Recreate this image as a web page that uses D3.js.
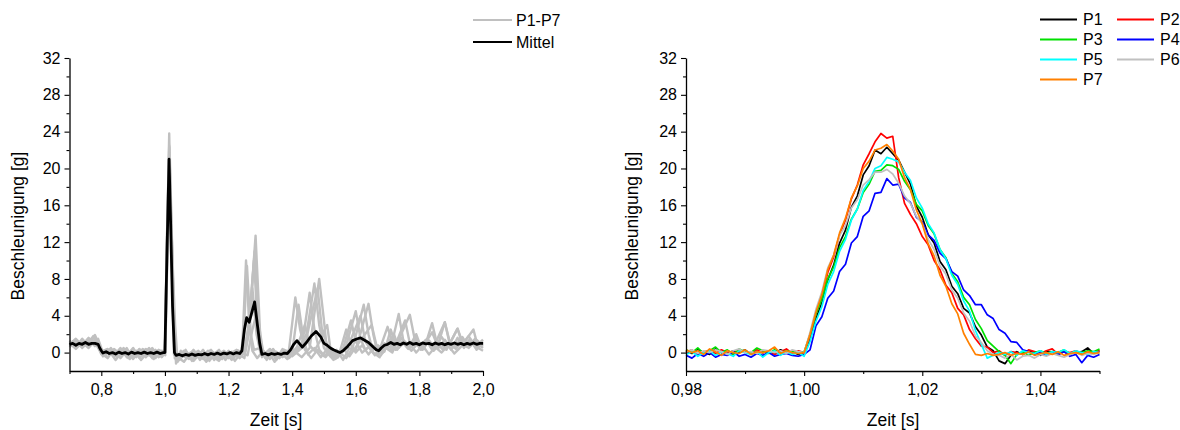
<!DOCTYPE html>
<html><head><meta charset="utf-8">
<script src="https://cdn.jsdelivr.net/npm/d3@7"></script>
<style>
body{margin:0;background:#fff;}
svg text{font-family:"Liberation Sans",Arial,sans-serif;font-size:16px;fill:#000;}
</style></head>
<body><svg id="c" width="1180" height="430"></svg>
<script>
// ---------- Data ----------
const yMajorTicks = [0,4,8,12,16,20,24,28,32];
const yMinorTicks = [2,6,10,14,18,22,26,30];
const leftXMajor = [0.8,1.0,1.2,1.4,1.6,1.8,2.0];
const leftXMinor = [0.7,0.9,1.1,1.3,1.5,1.7,1.9];
const leftXLabels = ["0,8","1,0","1,2","1,4","1,6","1,8","2,0"];
const rightXMajor = [0.98,1.00,1.02,1.04];
const rightXMinor = [0.99,1.01,1.03,1.05];
const rightXLabels = ["0,98","1,00","1,02","1,04"];
const seriesNames = ["P1","P2","P3","P4","P5","P6","P7"];
const seriesColors = ["#000000","#ff0000","#00e000","#0000ff","#00ffff","#c0c0c0","#ff8000"];

// Left: P1-P7 (grey) as [t, g]
const gP1 = [[0.70,0.9],[0.72,1.4],[0.74,0.5],[0.76,1.2],[0.775,1.7],[0.79,0.8],[0.80,0.0],[0.82,-0.5],[0.84,0.3],[0.86,-0.6],[0.88,0.2],[0.90,-0.4],[0.92,0.4],[0.94,-0.5],[0.96,0.2],[0.98,-0.3],[1.00,0.1],[1.007,13],[1.014,22.3],[1.022,10],[1.032,0.0],[1.04,-1.0],[1.06,0.2],[1.08,-0.6],[1.10,0.1],[1.12,-0.7],[1.14,0.2],[1.16,-0.5],[1.18,0.1],[1.20,-0.6],[1.22,0.2],[1.24,-0.3],[1.245,2],[1.255,10.0],[1.265,3],[1.275,0.2],[1.29,-0.6],[1.31,0.2],[1.33,-0.7],[1.35,0.1],[1.37,-0.5],[1.39,0.3],[1.41,6.0],[1.425,2.5],[1.44,0.3],[1.46,-0.6],[1.48,0.3],[1.50,-0.4],[1.52,0.2],[1.54,-0.6],[1.56,0.4],[1.585,3.5],[1.60,1.2],[1.62,0.0],[1.64,0.6],[1.66,-0.3],[1.68,0.8],[1.70,2.8],[1.715,1.0],[1.73,0.3],[1.75,1.3],[1.77,0.4],[1.79,1.5],[1.81,0.6],[1.84,2.2],[1.86,0.5],[1.88,1.4],[1.90,0.3],[1.92,1.6],[1.94,0.5],[1.96,1.4],[1.98,0.4],[2.00,1.2]];
const gP2 = [[0.70,1.3],[0.72,0.6],[0.74,1.5],[0.76,0.7],[0.78,1.9],[0.79,1.1],[0.80,0.3],[0.81,-0.3],[0.83,0.5],[0.85,-0.4],[0.87,0.4],[0.89,-0.7],[0.91,0.2],[0.93,-0.3],[0.95,0.5],[0.97,-0.6],[0.99,0.2],[1.00,-0.1],[1.007,13],[1.0135,23.8],[1.016,19],[1.024,7],[1.031,0.3],[1.045,-0.8],[1.065,0.3],[1.085,-0.9],[1.105,0.2],[1.125,-0.5],[1.145,0.3],[1.165,-0.8],[1.185,0.2],[1.205,-0.4],[1.225,0.3],[1.245,0.0],[1.258,9.4],[1.27,2.0],[1.28,0.3],[1.30,0.5],[1.32,-0.8],[1.34,0.3],[1.36,-0.4],[1.38,0.2],[1.40,0.0],[1.42,5.2],[1.435,1.5],[1.45,-0.2],[1.47,0.5],[1.49,-0.5],[1.51,0.4],[1.53,-0.7],[1.55,0.2],[1.57,0.8],[1.60,4.5],[1.615,1.5],[1.63,0.3],[1.65,0.9],[1.67,0.0],[1.69,1.0],[1.71,0.5],[1.735,4.2],[1.75,1.2],[1.77,0.6],[1.79,1.6],[1.81,0.3],[1.83,1.3],[1.85,0.5],[1.87,1.7],[1.89,0.6],[1.92,2.6],[1.94,0.7],[1.96,1.5],[1.98,0.3],[2.00,1.1]];
const gP3 = [[0.70,0.6],[0.72,1.2],[0.74,0.8],[0.76,1.5],[0.78,0.7],[0.79,1.2],[0.80,0.1],[0.82,0.4],[0.84,-0.5],[0.86,0.3],[0.88,-0.3],[0.90,0.5],[0.92,-0.6],[0.94,0.1],[0.96,-0.4],[0.98,0.3],[1.00,0.0],[1.007,11],[1.015,20.5],[1.022,12],[1.028,4],[1.033,0.0],[1.035,-1.2],[1.05,0.2],[1.07,-0.5],[1.09,0.3],[1.11,-0.8],[1.13,0.0],[1.15,-0.3],[1.17,0.3],[1.19,-0.8],[1.21,0.1],[1.23,-0.4],[1.25,0.3],[1.265,3],[1.285,12.7],[1.30,1.5],[1.31,-0.3],[1.33,0.4],[1.35,-0.8],[1.37,0.2],[1.39,-0.3],[1.42,0.5],[1.445,2.0],[1.47,7.5],[1.485,3.0],[1.50,0.5],[1.52,-0.4],[1.54,0.3],[1.56,-0.8],[1.58,0.5],[1.60,0.2],[1.64,5.3],[1.655,2.0],[1.67,-0.3],[1.69,0.7],[1.71,0.2],[1.73,1.0],[1.77,4.1],[1.785,1.5],[1.80,0.5],[1.82,1.4],[1.84,0.3],[1.86,1.0],[1.88,3.3],[1.895,1.0],[1.91,0.5],[1.93,1.5],[1.95,0.6],[1.97,1.3],[2.00,0.7]];
const gP4 = [[0.70,1.0],[0.72,0.4],[0.74,1.1],[0.76,0.5],[0.78,1.3],[0.795,0.6],[0.805,-0.4],[0.825,0.2],[0.845,-0.8],[0.865,0.1],[0.885,-0.6],[0.905,0.2],[0.925,-0.8],[0.945,0.0],[0.965,-0.7],[0.985,0.1],[1.001,-0.3],[1.008,11],[1.015,18.7],[1.025,9],[1.032,3],[1.038,0.0],[1.05,-0.6],[1.07,0.0],[1.09,-0.9],[1.11,-0.1],[1.13,-1.0],[1.15,-0.2],[1.17,-0.9],[1.19,0.0],[1.21,-0.8],[1.23,-0.1],[1.25,-0.6],[1.265,2.5],[1.282,11.0],[1.295,3.0],[1.305,-0.5],[1.325,0.1],[1.345,-1.0],[1.365,0.0],[1.385,-0.7],[1.405,0.2],[1.43,-0.5],[1.455,0.5],[1.485,8.0],[1.50,3.5],[1.51,0.0],[1.53,-0.8],[1.55,0.0],[1.57,-0.6],[1.59,0.5],[1.625,5.2],[1.64,2.0],[1.655,0.0],[1.675,-0.5],[1.695,0.5],[1.715,0.0],[1.755,3.5],[1.77,1.0],[1.79,0.0],[1.81,0.8],[1.83,-0.2],[1.85,0.6],[1.87,0.0],[1.89,0.8],[1.91,-0.1],[1.93,0.6],[1.97,2.5],[1.985,0.5],[2.00,0.2]];
const gP5 = [[0.70,0.8],[0.72,1.1],[0.74,0.6],[0.76,1.4],[0.78,0.9],[0.79,1.5],[0.80,0.5],[0.81,-0.2],[0.83,0.2],[0.85,-0.5],[0.87,0.5],[0.89,-0.2],[0.91,-0.5],[0.93,0.4],[0.95,-0.3],[0.97,0.3],[0.99,-0.5],[1.001,0.0],[1.008,12],[1.0155,21.2],[1.023,11],[1.030,0.8],[1.031,-0.6],[1.05,-0.2],[1.07,-0.6],[1.09,0.2],[1.11,-0.4],[1.13,-0.8],[1.15,0.1],[1.17,-0.5],[1.19,-0.1],[1.21,-0.7],[1.23,0.2],[1.25,-0.2],[1.26,1.5],[1.275,7.0],[1.288,2.0],[1.30,0.0],[1.32,-0.5],[1.34,0.4],[1.36,-0.6],[1.38,0.1],[1.40,-0.4],[1.43,0.5],[1.455,6.5],[1.47,2.5],[1.485,0.3],[1.505,-0.5],[1.525,0.4],[1.545,-0.5],[1.57,2.5],[1.585,0.8],[1.60,0.0],[1.62,0.8],[1.64,-0.2],[1.66,0.7],[1.68,0.0],[1.72,2.0],[1.735,0.5],[1.755,1.2],[1.775,0.2],[1.795,1.0],[1.815,0.4],[1.84,3.2],[1.855,1.0],[1.875,0.3],[1.895,1.2],[1.915,0.4],[1.935,1.3],[1.955,0.5],[1.975,1.2],[2.00,0.5]];
const gP6 = [[0.70,1.2],[0.72,0.7],[0.74,1.3],[0.76,1.0],[0.775,1.8],[0.79,0.7],[0.80,-0.2],[0.82,0.3],[0.84,-0.3],[0.86,0.5],[0.88,-0.5],[0.90,0.1],[0.92,-0.2],[0.94,0.4],[0.96,-0.6],[0.98,0.1],[1.00,0.2],[1.006,11],[1.014,19.8],[1.024,8],[1.031,0.0],[1.035,-0.8],[1.055,0.1],[1.075,-0.7],[1.095,0.0],[1.115,-0.6],[1.135,0.2],[1.155,-0.8],[1.175,-0.1],[1.195,-0.5],[1.215,0.1],[1.235,-0.6],[1.25,0.0],[1.265,3.5],[1.28,10.0],[1.29,4.0],[1.30,0.5],[1.315,-0.6],[1.335,0.2],[1.355,-0.5],[1.375,0.3],[1.395,-0.2],[1.415,0.6],[1.44,3.0],[1.455,0.8],[1.47,0.2],[1.50,2.0],[1.515,0.2],[1.535,-0.7],[1.555,0.0],[1.575,0.6],[1.615,4.0],[1.63,1.2],[1.65,0.2],[1.67,0.8],[1.69,0.1],[1.71,2.5],[1.725,0.8],[1.745,1.6],[1.765,0.5],[1.785,1.4],[1.805,0.3],[1.825,1.5],[1.845,0.6],[1.88,3.3],[1.895,1.2],[1.915,0.6],[1.935,1.7],[1.955,0.6],[1.975,1.5],[2.00,0.8]];
const gP7 = [[0.70,0.9],[0.72,1.5],[0.74,0.8],[0.76,1.6],[0.78,1.1],[0.79,0.5],[0.80,-0.1],[0.82,-0.6],[0.84,0.4],[0.86,-0.2],[0.88,0.5],[0.90,-0.7],[0.92,0.3],[0.94,-0.2],[0.96,0.5],[0.98,-0.5],[1.00,0.0],[1.006,12],[1.0135,22.5],[1.022,9],[1.0285,-0.2],[1.04,-0.5],[1.06,-1.0],[1.08,0.0],[1.10,-0.5],[1.12,0.3],[1.14,-0.9],[1.16,0.0],[1.18,-0.7],[1.20,0.2],[1.22,-0.9],[1.24,0.0],[1.26,-0.3],[1.275,2.5],[1.29,4.5],[1.30,2.0],[1.31,-0.2],[1.33,0.3],[1.35,-0.7],[1.37,0.4],[1.39,-0.6],[1.41,0.1],[1.44,0.8],[1.48,7.0],[1.495,2.0],[1.51,3.0],[1.52,0.5],[1.54,-0.3],[1.56,0.5],[1.58,-0.4],[1.60,0.6],[1.65,3.0],[1.665,0.8],[1.685,0.0],[1.705,1.0],[1.725,0.3],[1.745,1.2],[1.765,0.4],[1.79,2.0],[1.805,0.6],[1.825,1.2],[1.845,0.2],[1.865,1.0],[1.885,0.3],[1.92,2.6],[1.935,0.9],[1.955,1.8],[1.975,0.6],[2.00,1.4]];
const meanLine = [[0.70,0.9],[0.71,1.0],[0.72,0.8],[0.73,1.0],[0.74,0.9],[0.75,1.1],[0.76,0.9],[0.77,1.0],[0.78,1.0],[0.79,0.9],[0.795,0.5],[0.80,0.2],[0.805,-0.05],[0.815,0.1],[0.825,-0.1],[0.835,0.0],[0.845,-0.15],[0.855,0.05],[0.865,-0.1],[0.875,0.0],[0.885,-0.15],[0.895,0.05],[0.905,-0.1],[0.915,0.0],[0.925,-0.1],[0.935,0.05],[0.945,-0.1],[0.955,0.0],[0.965,-0.1],[0.975,0.05],[0.985,-0.1],[0.995,0.0],[1.000,0.0],[1.006,10],[1.013,21.0],[1.018,14],[1.024,5],[1.030,0.0],[1.035,-0.3],[1.045,-0.2],[1.055,-0.35],[1.065,-0.2],[1.075,-0.3],[1.085,-0.15],[1.095,-0.3],[1.105,-0.2],[1.115,-0.25],[1.125,-0.1],[1.135,-0.25],[1.145,-0.1],[1.155,-0.2],[1.165,-0.05],[1.175,-0.2],[1.185,-0.05],[1.195,-0.15],[1.205,0.0],[1.215,-0.15],[1.225,0.0],[1.235,-0.1],[1.242,0.2],[1.25,2.5],[1.257,3.8],[1.265,3.3],[1.272,4.2],[1.282,5.5],[1.29,3.2],[1.298,1.0],[1.305,-0.2],[1.315,-0.1],[1.325,-0.25],[1.335,-0.1],[1.345,-0.2],[1.355,-0.1],[1.365,-0.2],[1.375,-0.05],[1.385,-0.1],[1.395,0.3],[1.405,0.9],[1.415,1.3],[1.425,0.9],[1.432,0.6],[1.445,1.1],[1.46,1.8],[1.475,2.3],[1.49,1.7],[1.50,1.0],[1.51,0.8],[1.52,0.5],[1.53,0.3],[1.54,0.15],[1.55,0.0],[1.56,0.2],[1.575,0.7],[1.59,1.3],[1.605,1.5],[1.615,1.6],[1.625,1.4],[1.64,1.1],[1.655,0.6],[1.665,0.3],[1.672,0.2],[1.68,0.5],[1.69,0.8],[1.70,0.9],[1.71,1.1],[1.72,0.9],[1.73,1.0],[1.74,0.85],[1.75,1.05],[1.76,0.9],[1.77,1.1],[1.78,0.9],[1.79,1.0],[1.80,0.85],[1.81,1.05],[1.82,0.95],[1.83,1.0],[1.84,0.85],[1.85,1.05],[1.86,0.9],[1.87,1.0],[1.88,0.85],[1.89,1.0],[1.90,0.9],[1.91,1.05],[1.92,0.9],[1.93,1.0],[1.94,0.85],[1.95,1.0],[1.96,0.9],[1.97,1.05],[1.98,0.9],[1.99,1.0],[2.00,1.0]];

// Right: sample times (s) and P1..P7 values (g)
const rightTimes = [0.980,0.981,0.982,0.983,0.984,0.985,0.986,0.987,0.988,0.989,0.990,0.991,0.992,0.993,0.994,0.995,0.996,0.997,0.998,0.999,1.000,1.001,1.002,1.003,1.004,1.005,1.006,1.007,1.008,1.009,1.010,1.011,1.012,1.013,1.014,1.015,1.016,1.017,1.018,1.019,1.020,1.021,1.022,1.023,1.024,1.025,1.026,1.027,1.028,1.029,1.030,1.031,1.032,1.033,1.034,1.035,1.036,1.037,1.038,1.039,1.040,1.041,1.042,1.043,1.044,1.045,1.046,1.047,1.048,1.049,1.050];
const rP1 = [0.2,-0.1,0.3,0.0,-0.2,0.4,0.1,-0.1,0.2,0.0,0.3,-0.2,0.1,0.0,0.2,-0.1,0.3,0.0,0.1,-0.2,0.0, 1.5,3.7,5.4,7.9,9.5,11.9,13.3,15.8,17.0,19.3,20.3,22.0,21.6,22.3,21.6,20.9,19.6,18.3,15.9,14.7,12.8,11.9,9.9,9.0,7.2,6.4,4.8,4.3,2.8,1.9,0.6,0.2, -0.9,-1.2,-0.3,0.1,-0.2,0.2,0.0,-0.3,0.1,0.0,-0.2,0.2,-0.1,0.0,0.1,0.5,-0.1,0.2];
const rP2 = [0.0,0.3,-0.2,0.1,0.2,-0.1,0.3,0.0,-0.2,0.2,0.1,-0.1,0.3,0.0,0.2,-0.2,0.1,0.4,-0.1,0.2,0.0, 1.8,4.2,6.0,8.7,10.4,12.8,14.4,16.7,18.2,20.4,21.6,22.9,23.8,23.3,23.5,19.0,16.2,15.0,14.0,12.6,11.7,10.0,9.0,7.3,6.5,4.8,4.1,2.5,1.5,0.7,0.6,0.0, 0.2,-0.3,0.1,0.0,-0.2,0.3,0.1,-0.1,0.2,0.4,-0.2,0.1,0.0,0.2,-0.1,0.1,0.0,0.2];
const rP3 = [0.3,0.0,0.5,-0.1,0.2,0.6,0.0,0.3,-0.2,0.4,0.1,0.0,0.5,0.2,-0.1,0.3,0.0,0.2,0.1,-0.1,0.1, 2.0,4.2,5.8,8.0,9.3,11.4,12.6,14.5,15.6,17.4,18.3,19.7,19.8,20.4,20.3,19.9,18.6,17.7,16.1,15.4,13.8,12.9,11.2,10.3,8.6,7.7,6.0,5.2,3.6,2.6,1.3,0.7, 0.1,-0.3,-1.2,-0.2,0.1,-0.3,0.0,0.2,-0.1,0.1,0.0,0.3,-0.2,0.1,0.0,0.2,0.1,0.4];
const rP4 = [-0.3,-0.6,-0.1,-0.4,0.0,-0.5,-0.2,-0.3,0.1,-0.4,-0.2,-0.5,-0.1,-0.3,0.0,-0.4,-0.2,-0.1,-0.3,-0.4,-0.2, 0.3,2.9,3.9,5.9,6.7,8.8,9.6,11.9,12.6,14.8,15.4,17.3,17.4,18.9,18.2,18.3,16.8,16.3,14.7,14.2,12.8,12.2,10.8,10.2,8.8,8.3,6.8,6.2,5.2,5.2,4.1,3.7,2.5,2.1,1.2,1.1,0.3,0.1, -0.2,0.1,-0.3,0.0,-0.2,0.1,-0.4,-0.2,-1.1,-0.3,-0.5,-0.2];
const rP5 = [-0.2,0.1,-0.4,0.0,0.2,-0.3,0.1,-0.1,-0.4,0.2,0.0,-0.2,0.1,-0.5,0.0,0.2,-0.3,0.1,-0.2,0.0,-0.4, 1.2,3.4,5.0,7.4,8.8,11.0,12.3,14.4,15.6,17.6,18.6,20.0,20.3,21.2,21.0,20.7,19.6,18.7,16.8,15.7,14.0,13.0,11.2,10.2,8.4,7.4,5.6,4.5,2.4,0.9,-0.6,-0.3, 0.0,-0.2,0.1,-0.3,0.2,0.0,-0.1,0.2,-0.2,0.1,0.0,0.3,-0.1,0.2,0.0,-0.2,0.1,0.0];
const rP6 = [0.1,0.3,-0.1,0.2,0.0,0.3,0.1,-0.2,0.2,0.4,0.0,0.1,-0.1,0.3,0.2,0.0,0.2,-0.1,0.3,0.1,0.0, 2.2,4.7,6.6,9.2,10.6,12.7,13.8,15.7,16.6,18.2,18.8,19.6,19.6,19.9,19.4,18.4,17.0,16.2,14.8,14.0,12.3,11.2,9.4,8.5,6.8,5.9,4.3,3.4,1.8,1.1,0.2,-0.2, -0.3,-0.6,-0.2,-0.8,-0.4,-0.3,-0.6,-0.2,-0.4,-0.1,-0.3,-0.5,-0.2,0.0,-0.3,-0.1,-0.2,0.0];
const rP7 = [0.3,0.0,0.2,-0.2,0.4,0.1,-0.3,0.2,0.0,-0.1,0.3,-0.2,0.1,0.0,0.2,0.6,-0.1,0.2,0.0,-0.1,0.0, 2.0,4.4,6.3,9.0,10.6,13.0,14.6,16.8,18.1,20.0,20.8,22.0,22.2,22.6,21.9,21.0,19.0,17.7,15.5,14.0,11.8,10.5,8.4,7.2,5.3,4.2,2.1,0.9,-0.2,-0.3,-0.1,-0.3, -0.2,0.0,-0.3,-0.1,-0.2,0.1,-0.3,-0.1,0.0,-0.2,0.1,-0.3,-0.1,0.0,-0.2,0.1,-0.1,0.0];

// ---------- Drawing ----------
const FONT = '"Liberation Sans",Arial,sans-serif';
const svg = d3.select("#c");
const yScale = d3.scaleLinear().domain([-2, 32]).range([371, 58]);

function drawAxes(x, majors, minors, labels, xTitleX, yTitleX) {
  const g = svg.append("g");
  g.append("g").attr("transform", `translate(${x.range()[0]},0)`)
    .call(d3.axisLeft(yScale).tickValues(yMajorTicks).tickSize(5).tickSizeOuter(0).tickPadding(4));
  g.append("g").attr("transform", `translate(${x.range()[0]},0)`)
    .call(d3.axisLeft(yScale).tickValues(yMinorTicks).tickSize(3).tickSizeOuter(0).tickFormat(""))
    .select(".domain").remove();
  g.append("g").attr("transform", `translate(0,${yScale(-2)})`)
    .call(d3.axisBottom(x).tickValues(majors).tickSize(5).tickSizeOuter(0).tickPadding(8)
      .tickFormat((d, i) => labels[i]));
  g.append("g").attr("transform", `translate(0,${yScale(-2)})`)
    .call(d3.axisBottom(x).tickValues(minors).tickSize(3).tickSizeOuter(0).tickFormat(""))
    .select(".domain").remove();
  g.selectAll(".domain").attr("stroke", "#000").attr("stroke-width", 1.3);
  g.selectAll(".tick line").attr("stroke", "#000").attr("stroke-width", 1.1);
  g.selectAll(".tick text").attr("font-family", FONT).attr("font-size", 16).attr("fill", "#000");
  g.append("text").attr("x", xTitleX).attr("y", 425.5).attr("text-anchor", "middle")
    .style("font-size", "17.5px").text("Zeit [s]");
  g.append("text").attr("transform", `translate(${yTitleX},226) rotate(-90)`).attr("text-anchor", "middle")
    .attr("dominant-baseline", "middle").style("font-size", "17.5px").text("Beschleunigung [g]");
}

// Left chart
const xL = d3.scaleLinear().domain([0.7, 2.0]).range([69.5, 483]);
const lineL = d3.line().x(d => xL(d[0])).y(d => yScale(d[1]));
const greys = [gP1, gP2, gP3, gP4, gP5, gP6, gP7];
const gl = svg.append("g");
greys.forEach(s => gl.append("path").attr("d", lineL(s)).attr("fill", "none")
  .attr("stroke", "#c0c0c0").attr("stroke-width", 2.4).attr("stroke-linejoin", "round"));
gl.append("path").attr("d", lineL(meanLine)).attr("fill", "none")
  .attr("stroke", "#000").attr("stroke-width", 2.8).attr("stroke-linejoin", "round");
drawAxes(xL, leftXMajor, leftXMinor, leftXLabels, 276, 19.5);

// Left legend
const legL = svg.append("g");
[["P1-P7", "#c0c0c0", 20], ["Mittel", "#000", 42]].forEach(([t, c, y]) => {
  legL.append("line").attr("x1", 473).attr("x2", 512).attr("y1", y).attr("y2", y).attr("stroke", c).attr("stroke-width", 2);
  legL.append("text").attr("x", 516).attr("y", y).attr("dominant-baseline", "central").text(t);
});

// Right chart
const xR = d3.scaleLinear().domain([0.98, 1.05]).range([686, 1099.5]);
const lineR = d3.line().x((d, i) => xR(rightTimes[i])).y(d => yScale(d));
const rSeries = [rP1, rP2, rP3, rP4, rP5, rP6, rP7];
const gr = svg.append("g");
rSeries.forEach((s, k) => gr.append("path").attr("d", lineR(s)).attr("fill", "none")
  .attr("stroke", seriesColors[k]).attr("stroke-width", 1.7).attr("stroke-linejoin", "round"));
drawAxes(xR, rightXMajor, rightXMinor, rightXLabels, 893, 633.5);

// Right legend (2 columns)
const legR = svg.append("g");
seriesNames.forEach((n, k) => {
  const col = k % 2, row = Math.floor(k / 2);
  const lx = col === 0 ? 1040 : 1117, tx = col === 0 ? 1083 : 1160;
  const y = 19.5 + row * 20;
  legR.append("line").attr("x1", lx).attr("x2", lx + 37).attr("y1", y).attr("y2", y)
    .attr("stroke", seriesColors[k]).attr("stroke-width", 2);
  legR.append("text").attr("x", tx).attr("y", y).attr("dominant-baseline", "central").text(n);
});
</script></body></html>
